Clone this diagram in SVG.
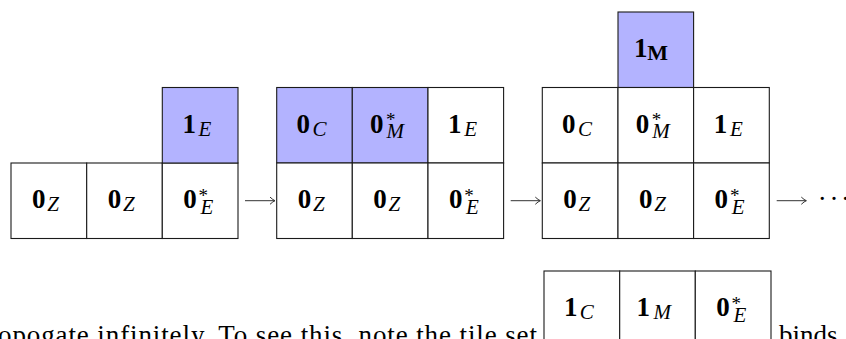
<svg xmlns="http://www.w3.org/2000/svg" width="846" height="339" viewBox="0 0 846 339">
<defs>
<style>
.c{stroke:#1a1a1a;stroke-width:1.1}
.w{fill:#ffffff}
.b{fill:#b3b3ff}
text{fill:#000}
.d{font-family:"Liberation Serif",serif;font-weight:bold;font-size:27px}
.s{font-family:"Liberation Serif",serif;font-style:italic;font-size:21px}
.a{font-family:"Liberation Serif",serif;font-size:19px}
.sb{font-family:"Liberation Serif",serif;font-weight:bold;font-size:22px}
.t{font-family:"Liberation Serif",serif;font-size:27px}
.ar{stroke:#333;stroke-width:1;fill:none}
</style>
<marker id="head" markerUnits="userSpaceOnUse" markerWidth="12" markerHeight="12" refX="0" refY="0" viewBox="-8 -6 10 12" orient="auto" overflow="visible">
<path d="M -5,-3.6 Q -2,-0.8 0,0 Q -2,0.8 -5,3.6" fill="none" stroke="#333" stroke-width="1"/>
</marker>
</defs>
<rect width="846" height="339" fill="#fff"/>

<!-- Group 1 -->
<g id="g1c1"><rect class="c w" x="11" y="163" width="75.7" height="75.5"/><text><tspan class="d" x="32" y="208.3">0</tspan><tspan class="s" x="47.3" y="211.3">Z</tspan></text></g>
<g id="g1c2"><rect class="c w" x="86.7" y="163" width="75.6" height="75.5"/><text><tspan class="d" x="107.7" y="208.3">0</tspan><tspan class="s" x="123" y="211.3">Z</tspan></text></g>
<g id="g1c3"><rect class="c w" x="162.3" y="163" width="75.7" height="75.5"/><text><tspan class="d" x="183.3" y="208.3">0</tspan><tspan class="a" x="198.6" y="201.6">*</tspan><tspan class="s" x="200.4" y="213.7">E</tspan></text></g>
<g id="g1c4"><rect class="c b" x="162.3" y="87.5" width="75.7" height="75.5"/><text><tspan class="d" x="182.4" y="132.8">1</tspan><tspan class="s" x="198.6" y="136">E</tspan></text></g>

<!-- Group 2 -->
<g id="g2t1"><rect class="c b" x="276.7" y="87.5" width="75.6" height="75.5"/><text><tspan class="d" x="296.5" y="132.8">0</tspan><tspan class="s" x="312.5" y="136">C</tspan></text></g>
<g id="g2t2"><rect class="c b" x="352.3" y="87.5" width="75.7" height="75.5"/><text><tspan class="d" x="370.1" y="132.8">0</tspan><tspan class="a" x="386.1" y="126.1">*</tspan><tspan class="s" x="386.6" y="138.2">M</tspan></text></g>
<g id="g2t3"><rect class="c w" x="428" y="87.5" width="75.6" height="75.5"/><text><tspan class="d" x="448.1" y="132.8">1</tspan><tspan class="s" x="464.3" y="136">E</tspan></text></g>
<g id="g2b1"><rect class="c w" x="276.7" y="163" width="75.6" height="75.5"/><text><tspan class="d" x="297.7" y="208.3">0</tspan><tspan class="s" x="313" y="211.3">Z</tspan></text></g>
<g id="g2b2"><rect class="c w" x="352.3" y="163" width="75.7" height="75.5"/><text><tspan class="d" x="373.3" y="208.3">0</tspan><tspan class="s" x="388.6" y="211.3">Z</tspan></text></g>
<g id="g2b3"><rect class="c w" x="428" y="163" width="75.6" height="75.5"/><text><tspan class="d" x="449" y="208.3">0</tspan><tspan class="a" x="464.3" y="201.6">*</tspan><tspan class="s" x="466.1" y="213.7">E</tspan></text></g>

<!-- Group 3 -->
<g id="g3top"><rect class="c b" x="618" y="12" width="75.6" height="75.5"/><text><tspan class="d" x="634" y="57.3">1</tspan><tspan class="sb" x="647.3" y="60">M</tspan></text></g>
<g id="g3m1"><rect class="c w" x="542.3" y="87.5" width="75.7" height="75.5"/><text><tspan class="d" x="562.1" y="132.8">0</tspan><tspan class="s" x="578.1" y="136">C</tspan></text></g>
<g id="g3m2"><rect class="c w" x="618" y="87.5" width="75.6" height="75.5"/><text><tspan class="d" x="635.8" y="132.8">0</tspan><tspan class="a" x="651.8" y="126.1">*</tspan><tspan class="s" x="652.3" y="138.2">M</tspan></text></g>
<g id="g3m3"><rect class="c w" x="693.6" y="87.5" width="75.7" height="75.5"/><text><tspan class="d" x="713.7" y="132.8">1</tspan><tspan class="s" x="729.9" y="136">E</tspan></text></g>
<g id="g3b1"><rect class="c w" x="542.3" y="163" width="75.7" height="75.5"/><text><tspan class="d" x="563.3" y="208.3">0</tspan><tspan class="s" x="578.6" y="211.3">Z</tspan></text></g>
<g id="g3b2"><rect class="c w" x="618" y="163" width="75.6" height="75.5"/><text><tspan class="d" x="639" y="208.3">0</tspan><tspan class="s" x="654.3" y="211.3">Z</tspan></text></g>
<g id="g3b3"><rect class="c w" x="693.6" y="163" width="75.7" height="75.5"/><text><tspan class="d" x="714.6" y="208.3">0</tspan><tspan class="a" x="729.9" y="201.6">*</tspan><tspan class="s" x="731.7" y="213.7">E</tspan></text></g>

<!-- Connectors -->
<g id="connectors">
<line class="ar" x1="245" y1="200.7" x2="275" y2="200.7" marker-end="url(#head)"/>
<line class="ar" x1="510.7" y1="200.7" x2="540.3" y2="200.7" marker-end="url(#head)"/>
<line class="ar" x1="776.7" y1="200.7" x2="806.3" y2="200.7" marker-end="url(#head)"/>
</g>
<text class="t" x="822.3 834 845.6" y="207.8" text-anchor="middle">···</text>

<!-- Bottom text line -->
<text class="t" x="-2" y="343.5" textLength="539" lengthAdjust="spacing">opogate infinitely.  To see this, note the tile set</text>

<g id="tileset1"><rect class="c w" x="544" y="271" width="75.7" height="75.5"/><text><tspan class="d" x="563.9" y="316.3">1</tspan><tspan class="s" x="579.8" y="319.3">C</tspan></text></g>
<g id="tileset2"><rect class="c w" x="619.7" y="271" width="75.6" height="75.5"/><text><tspan class="d" x="636.5" y="316.3">1</tspan><tspan class="s" x="653.5" y="319.3">M</tspan></text></g>
<g id="tileset3"><rect class="c w" x="695.3" y="271" width="75.7" height="75.5"/><text><tspan class="d" x="716.3" y="316.3">0</tspan><tspan class="a" x="731.6" y="309.6">*</tspan><tspan class="s" x="733.4" y="321.7">E</tspan></text></g>

<text class="t" x="779" y="343.5">binds</text>
</svg>
